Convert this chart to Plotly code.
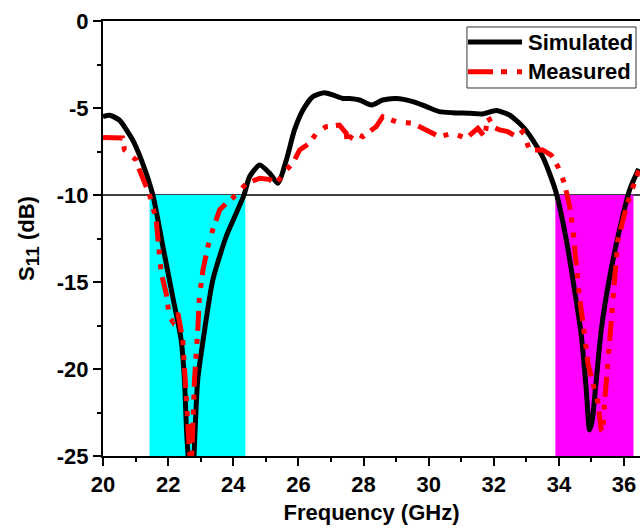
import plotly.graph_objects as go

# Simulated reflection coefficient (GHz, dB)
sim_freq = [20.0, 20.2, 20.5, 20.9, 21.2, 21.53, 21.84, 22.14, 22.4, 22.5, 22.57,
            22.65, 22.72, 22.78, 22.83, 22.91, 23.12, 23.37, 23.78, 24.33, 24.5,
            24.81, 25.12, 25.37, 25.63, 25.88, 26.14, 26.44, 26.8, 27.06, 27.36,
            27.57, 27.88, 28.24, 28.59, 29.0, 29.52, 29.93, 30.33, 30.74, 31.26,
            31.66, 32.08, 32.48, 32.89, 33.2, 33.5, 33.71, 33.92, 34.23, 34.48,
            34.69, 34.84, 34.94, 35.02, 35.1, 35.3, 35.56, 35.86, 36.17, 36.45]
sim_s11 = [-5.5, -5.42, -5.69, -6.8, -8.1, -10.0, -12.97, -15.84, -18.33, -20.6, -23.7,
           -25.8, -26.5, -25.5, -23.4, -20.6, -17.76, -14.9, -12.4, -10.0, -8.95,
           -8.28, -8.75, -9.33, -7.99, -6.26, -5.11, -4.35, -4.12, -4.25, -4.45,
           -4.45, -4.54, -4.83, -4.54, -4.45, -4.63, -4.92, -5.21, -5.27, -5.3,
           -5.34, -5.15, -5.4, -6.07, -6.84, -7.8, -8.75, -9.9, -12.6, -15.46,
           -18.1, -21.2, -23.5, -23.0, -21.6, -17.76, -14.7, -12.0, -9.71, -8.5]

# Measured reflection coefficient (GHz, dB)
meas_freq = [20.0, 20.3, 20.6, 20.66, 21.02, 21.12, 21.27, 21.43, 21.63, 21.73, 21.79,
             21.94, 22.04, 22.15, 22.3, 22.45, 22.5, 22.55, 22.6, 22.66, 22.72, 22.76,
             22.81, 22.91, 22.96, 23.07, 23.22, 23.37, 23.58, 23.78, 24.09, 24.4,
             24.81, 25.1, 25.32, 25.63, 25.83, 26.04, 26.34, 26.55, 26.85, 27.26,
             27.47, 27.5, 27.7, 27.98, 28.39, 28.59, 29.0, 29.52, 29.93, 30.33,
             30.74, 31.15, 31.51, 31.72, 31.82, 32.0, 32.18, 32.43, 32.69, 32.89,
             33.1, 33.5, 33.76, 33.97, 34.17, 34.33, 34.43, 34.53, 34.63, 34.79,
             34.89, 35.04, 35.2, 35.3, 35.35, 35.4, 35.5, 35.61, 35.71, 35.81,
             36.02, 36.17, 36.45]
meas_s11 = [-6.69, -6.69, -6.72, -7.41, -7.99, -8.56, -9.33, -10.0, -11.4, -12.97, -14.5,
            -15.65, -17.0, -17.3, -16.8, -18.33, -19.87, -21.6, -23.5, -24.85, -25.3, -22.5,
            -20.6, -17.76, -15.84, -14.3, -12.97, -12.0, -10.86, -10.48, -10.0, -9.33,
            -9.04, -9.1, -9.33, -8.56, -8.18, -7.41, -7.03, -6.45, -6.07, -5.98,
            -6.45, -7.0, -6.4, -6.65, -6.07, -5.5, -5.79, -5.88, -6.26, -6.65,
            -6.45, -6.74, -6.17, -6.65, -5.5, -6.1, -6.26, -6.36, -6.65, -6.36,
            -7.41, -7.41, -7.7, -8.37, -9.33, -10.67, -12.0, -13.9, -15.84, -18.1,
            -19.67, -20.8, -21.97, -23.5, -23.6, -21.97, -19.67, -16.8, -14.3, -12.6,
            -11.05, -10.1, -8.6]

# Operating bands below the -10 dB threshold
band_low = [21.43, 24.37]
band_high = [33.89, 36.29]
threshold_db = -10

x_ticks = [20, 22, 24, 26, 28, 30, 32, 34, 36]
y_ticks = [0, -5, -10, -15, -20, -25]
y_tick_labels = ["0", "-5", "-10", "-15", "-20", "-25"]

series_names = ["Simulated", "Measured"]
series_colors = ["black", "#ff0000"]
series_dash = ["solid", "20px,8px,5px,10px,5px,8px"]
legend_dash = ["solid", "25px,8px,6px,10px,6px,8px"]

FONT = "Arial, 'Liberation Sans', sans-serif"
axis_font = dict(family=FONT, size=22, color="black", weight="bold")

fig = go.Figure()

fig.add_trace(go.Scatter(
    x=sim_freq, y=sim_s11, mode="lines", name=series_names[0],
    line=dict(color=series_colors[0], width=5, shape="spline", smoothing=0.6),
))
fig.add_trace(go.Scatter(
    x=meas_freq, y=meas_s11, mode="lines", name=series_names[1],
    line=dict(color=series_colors[1], width=5, dash=series_dash[1]),
))

# shaded bands and the -10 dB reference line
fig.add_shape(type="rect", xref="x", yref="y", x0=band_low[0], x1=band_low[1],
              y0=threshold_db, y1=-25, fillcolor="#00ffff", line_width=0, layer="below")
fig.add_shape(type="rect", xref="x", yref="y", x0=band_high[0], x1=band_high[1],
              y0=threshold_db, y1=-25, fillcolor="#ff00ff", line_width=0, layer="below")
fig.add_shape(type="line", xref="paper", yref="y", x0=0, x1=1,
              y0=threshold_db, y1=threshold_db, line=dict(color="black", width=1.5),
              layer="below")

# legend box with longer sample lines
fig.add_shape(type="rect", xref="paper", yref="paper", x0=0.6778, x1=0.9926,
              y0=0.846, y1=0.9862, fillcolor="white",
              line=dict(color="#333333", width=1))
legend_rows = [0.9517, 0.8834]
for name, color, dash, ypos in zip(series_names, series_colors, legend_dash, legend_rows):
    fig.add_shape(type="line", xref="paper", yref="paper", x0=0.6797, x1=0.7803,
                  y0=ypos, y1=ypos, line=dict(color=color, width=5, dash=dash))
    fig.add_annotation(xref="paper", yref="paper", x=0.7877, y=ypos, text=name,
                       showarrow=False, xanchor="left", yanchor="middle",
                       font=dict(family=FONT, size=22, color="black", weight="bold"))

fig.update_xaxes(
    range=[20, 36.49], tickvals=x_ticks, ticks="outside", ticklen=8, tickwidth=2,
    tickcolor="black", showline=True, linecolor="black", linewidth=2, mirror=True,
    showgrid=False, zeroline=False, tickfont=axis_font,
    minor=dict(dtick=1, ticks="outside", ticklen=4, tickwidth=2, tickcolor="black"),
    title=dict(text="Frequency (GHz)", font=axis_font, standoff=8),
)
fig.update_yaxes(
    range=[-25, 0], tickvals=y_ticks, ticktext=y_tick_labels, ticks="outside",
    ticklen=8, tickwidth=2, tickcolor="black", showline=True, linecolor="black",
    linewidth=2, showgrid=False, zeroline=False, tickfont=axis_font,
    minor=dict(dtick=2.5, ticks="outside", ticklen=4, tickwidth=2, tickcolor="black"),
    title=dict(text="S<sub><span style='font-size:19px'>11</span></sub> (dB)",
               font=axis_font, standoff=16),
)

fig.update_layout(
    width=640, height=529,
    margin=dict(l=103, r=0, t=21, b=73),
    paper_bgcolor="white", plot_bgcolor="white",
    font=dict(family=FONT, color="black"),
    showlegend=False,
)

fig.write_html("out.html")
